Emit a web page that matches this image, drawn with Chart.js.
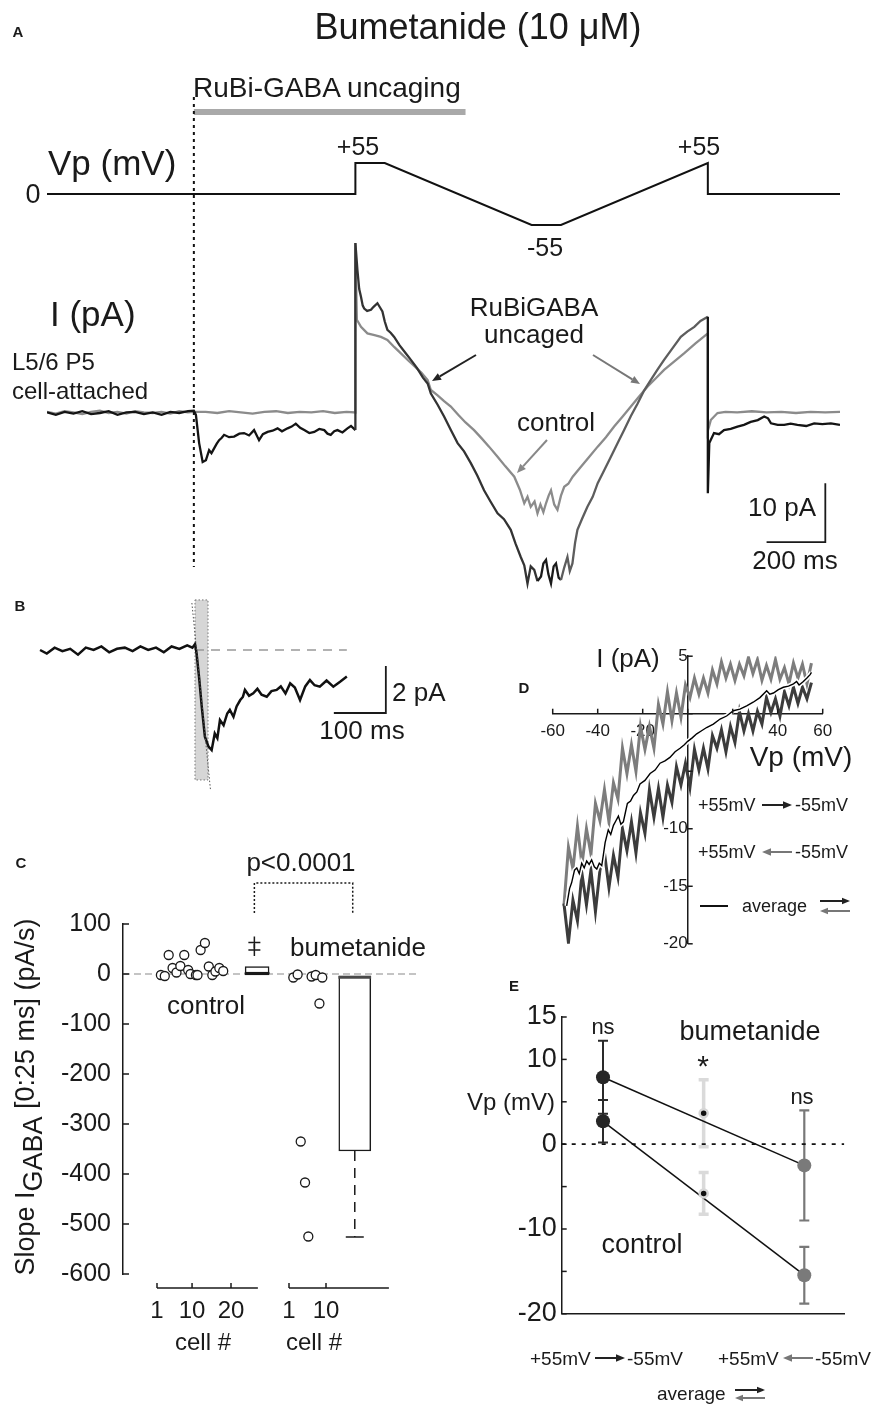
<!DOCTYPE html>
<html>
<head>
<meta charset="utf-8">
<script src="https://cdn.jsdelivr.net/npm/chart.js@4.4.0/dist/chart.umd.min.js"></script>
<style>
  html, body { margin: 0; padding: 0; background: #fff; }
  #page { position: relative; width: 875px; height: 1405px; overflow: hidden;
          font-family: 'Liberation Sans', Arial, sans-serif; color: #1a1a1a; }
  #page canvas { position: absolute; }
  .lbl { position: absolute; white-space: nowrap; line-height: 1; }
  .lbl sub { font-size: 1em; vertical-align: -0.3em; line-height: 0; }
  #marks { position: absolute; left: 0; top: 0; }
</style>
</head>
<body>
<div id="page"></div>
<script>
// ---------- A: voltage protocol (ms, mV) and currents (ms, pA)
const vpTime  = [-500, 550, 550, 650, 1150, 1250, 1750, 1750, 2200];
const vpLevel = [0, 0, 55, 55, -55, -55, 55, 0, 0];
const uncagingWindow = [0, 925];

const uncagedT = [
  -500,-470,-440,-410,-380,-350,-320,-290,-260,-230,-200,-170,-140,-110,-80,-50,-20,0,
  7,18,30,41,52,60,69,78,86,95,103,120,137,155,171,188,205,222,235,251,268,285,300,319,333,347,362,376,393,410,427,444,455,466,478,489,506,523,535,550,
  550,557,563,569,575,580,590,603,612,625,635,642,650,659,670,682,700,720,739,760,780,796,807,830,852,875,898,920,943,965,
  988,1010,1034,1056,1079,1095,1113,1125,1136,1147,1159,1170,1182,1190,1199,1207,1216,1225,1233,1242,1250,1261,1272,1280,1289,1298,1306,1323,1340,1358,
  1375,1398,1420,1443,1465,1488,1511,1533,1556,1578,1601,1630,1658,1680,1704,1725,1750,
  1750,1755,1771,1788,1805,1828,1851,1873,1896,1920,1942,1955,1965,1988,2010,2032,2055,2085,2112,2140,2169,2200];
const uncagedI = [
  0.1,-0.3,0.2,-0.1,0.3,-0.2,0.0,0.3,-0.3,0.1,0.2,-0.2,0.1,-0.3,0.2,0.0,0.3,0.4,
  -0.3,-5.1,-8.3,-8.0,-6.3,-6.8,-6.0,-5.2,-4.6,-4.2,-3.7,-4.1,-4.0,-3.5,-3.4,-3.8,-2.9,-4.6,-3.6,-3.2,-3.0,-2.6,-3.1,-2.6,-2.3,-1.8,-2.5,-2.9,-3.4,-3.2,-2.7,-2.9,-3.5,-3.7,-3.1,-2.9,-3.3,-2.6,-2.2,-2.9,
  28.8,24.2,21.0,19.7,18.2,17.7,17.3,17.5,18.0,18.6,17.8,17.2,15.5,14.1,13.6,12.9,11.5,10.2,9.0,7.6,6.0,5.0,3.3,1.4,-0.6,-2.9,-5.1,-6.5,-8.5,-10.6,
  -13.1,-15.0,-17.0,-18.0,-19.8,-22.1,-24.4,-25.8,-28.9,-26.0,-26.6,-28.5,-27.7,-25.5,-24.9,-27.3,-28.9,-26.0,-25.5,-27.9,-28.3,-26.2,-24.4,-26.8,-25.5,-22.0,-19.8,-17.8,-15.9,-14.2,
  -11.9,-9.6,-7.4,-5.1,-2.9,-0.5,1.6,3.8,5.6,7.3,9.0,11.0,12.9,13.8,14.6,15.6,16.3,
  -13.6,-5.1,-3.4,-3.6,-2.9,-2.7,-2.3,-2.0,-1.5,-1.2,-0.6,-0.9,-1.75,-2.0,-2.0,-1.8,-2.0,-2.2,-1.75,-1.9,-1.75,-2.0];

const controlT = [
  -500,-470,-440,-410,-380,-350,-320,-290,-260,-230,-200,-170,-140,-110,-80,-50,-20,0,
  40,80,120,160,200,240,280,320,360,400,440,480,520,550,
  550,555,569,591,615,637,659,682,705,730,752,775,796,807,830,852,875,900,925,954,
  980,1005,1034,1060,1091,1110,1125,1136,1147,1160,1170,1180,1190,1199,1208,1216,1227,1238,1250,1261,
  1275,1290,1318,1345,1375,1403,1431,1460,1488,1516,1545,1573,1601,1635,1669,1708,1750,
  1750,1760,1783,1810,1850,1900,1950,2000,2050,2100,2150,2200];
const controlI = [
  0.2,-0.1,0.3,0.1,-0.2,0.2,0.4,0.0,0.2,-0.1,0.3,0.1,0.0,0.2,-0.1,0.3,0.1,0.2,
  0.2,0.0,0.3,0.1,-0.1,0.2,0.3,0.0,0.2,0.1,0.3,0.0,0.2,0.1,
  28.8,15.8,14.6,13.5,13.2,12.9,12.4,11.2,10.1,8.9,7.9,6.8,5.6,3.9,3.0,2.0,1.1,-0.3,-1.6,-2.9,
  -4.3,-5.7,-7.4,-9.0,-10.8,-13.0,-15.3,-14.2,-15.9,-15.0,-17.0,-15.5,-16.8,-15.3,-14.0,-13.1,-15.5,-16.4,-14.0,-12.5,
  -12.0,-10.8,-9.1,-7.5,-5.7,-4.1,-2.3,-0.6,1.1,2.8,4.5,5.9,7.3,8.7,10.1,11.8,13.5,
  -3.0,-1.2,0.0,0.2,0.1,0.3,0.1,0.2,0.0,0.2,0.1,0.2];

// ---------- B: onset of the uncaging response (ms, pA)
const onsetT = [-298,-285,-270,-255,-240,-225,-210,-195,-180,-165,-150,-135,-120,-105,-90,-75,-60,-45,-30,-15,
  -5,0,3,8,13,19,26,32,38,43,48,55,62,67,74,80,87,92,96,104,112,120,128,138,147,157,165,174,183,192,
  202,212,221,230,240,253,266,279,292];
const onsetI = [0.0,-0.15,0.1,-0.05,0.05,-0.2,0.1,0.0,0.15,-0.1,0.05,0.1,-0.05,0.15,0.0,0.1,-0.1,0.15,0.05,0.2,
  0.1,0.25,-0.14,-1.2,-2.41,-3.69,-4.11,-4.26,-3.55,-3.75,-2.98,-3.2,-2.7,-2.55,-2.84,-2.4,-2.13,-2.0,-1.7,-1.95,
  -1.84,-1.65,-1.9,-1.99,-1.75,-1.7,-1.55,-1.85,-1.42,-1.6,-2.13,-1.55,-1.28,-1.5,-1.56,-1.3,-1.56,-1.35,-1.13];
const slopeWindow = [0, 25];
const fitT = [-6, 30];
const fitI = [2.0, -6.0];

// ---------- C: initial slope per cell (pA/s)
const ctrlCell  = [2, 3, 4, 5, 6, 7, 8, 9, 9.6, 11, 11.4, 12.2, 13.3, 14.3, 15.2, 16, 17, 18];
const ctrlSlope = [-2, -4, 38, 12, 3, 16, 38, 8, 0, -2, -2, 48, 62, 15, -2, 5, 12, 6];
const bumCell   = [2.05, 3.1, 3.85, 4.9, 5.7, 6.5, 7.5, 8.4, 9.1];
const bumSlope  = [-7, -1, -335, -417, -525, -5, -2, -59, -7];
const ctrlOutliers = [48, 63];
const boxLow = [-2, -354];
const boxHigh = [15, -4];
const boxMedian = [2, -6.5];
const whiskerLow = -526;
const slopeTicks = [100, 0, -100, -200, -300, -400, -500, -600];

// ---------- D: I-V curves (mV, pA)
const rampVp = [-55,-53,-51,-49,-47,-45,-43,-41,-39,-37,-35,-33,-31,-29,-27,-25,-23,-21,-19,-17,-15,-13,-11,-9,-7,-5,-3,-1,
  1,3,5,7,9,11,13,15,17,19,21,23,25,27,29,31,33,35,37,39,41,43,45,47,49,51,53,55];
const rampDownI = [-16.5,-19.9,-16.2,-18.0,-13.9,-16.6,-13.6,-17.2,-13.6,-12.1,-15.1,-12.3,-14.2,-10.0,-11.9,-9.4,-12.1,-8.6,-10.4,-6.6,-9.0,-6.5,-9.0,-6.2,-7.7,-4.6,-6.2,-4.3,
  -6.4,-3.1,-4.9,-3.0,-4.8,-1.9,-3.0,-1.4,-3.3,-1.1,-2.5,0.2,-1.5,0.0,-1.5,0.2,-0.9,1.4,0.1,1.3,-0.2,1.9,0.7,2.3,0.9,2.3,1.3,2.7];
const rampUpI = [-16.7,-11.6,-13.5,-9.8,-13.1,-10.0,-12.2,-7.8,-9.3,-6.6,-9.4,-6.0,-7.4,-3.0,-5.2,-2.7,-5.0,-1.1,-3.1,-1.1,-3.0,0.8,-0.9,1.9,-0.6,1.8,-0.3,2.5,
  1.4,3.1,1.7,3.1,1.8,3.8,2.6,4.5,3.1,4.3,2.9,4.3,3.3,4.9,3.5,4.7,2.9,4.2,3.0,4.7,3.0,4.0,2.6,4.4,3.1,4.3,2.6,4.4];
const avgVp = [-53.8,-52.5,-51.6,-50.3,-49.3,-48.2,-47.1,-46,-44.9,-43.8,-42.7,-41.5,-40.4,-39.3,-38.2,-37.5,-36.7,-35.3,-34.2,-33,
  -31.9,-30.8,-29.7,-28.6,-27.6,-26.8,-25.4,-24.1,-22.6,-21.2,-19,-16.7,-14.5,-12.3,-10.1,-7.9,-5.6,-3.4,-1.5,0,
  2,4,6,8.4,11.4,14.4,17.3,20.3,23.2,26.2,29.1,32.1,35.1,36.5,38.1,40.3,42.5,44.8,47,48.4,49.5,51.4,53,54.4,55];
const avgI = [-16.7,-15.2,-14.7,-13.6,-13.4,-13.9,-13.0,-13.4,-12.8,-13.1,-12.7,-13.3,-13.5,-13.0,-13.2,-12.3,-11.2,-10.1,-10.5,-9.7,
  -9.3,-8.9,-9.6,-9.4,-8.5,-7.8,-7.6,-7.1,-6.8,-6.1,-5.8,-5.2,-4.9,-4.3,-4.1,-3.8,-3.3,-3.0,-2.7,-2.4,
  -2.1,-1.75,-1.5,-1.2,-0.9,-0.46,-0.2,0.26,0.4,0.69,1.0,1.4,2.0,1.7,1.8,2.1,2.3,2.4,2.6,2.8,2.5,2.8,3.1,3.4,3.6];

// ---------- E: reversal potential (mV), mean and error
const eCategory = [1, 2, 3];   // ramp down, average, ramp up
const bumMean = [7.9, 3.65, -2.5];
const bumErr  = [4.3, 3.95, 6.5];
const ctrlMean = [2.7, -5.8, -15.45];
const ctrlErr  = [2.5, 2.47, 3.35];
const eTickLabels = [15, 10, 0, -10, -20];

// ---------- helpers
const page = document.getElementById('page');
const pts = (xs, ys) => xs.map((x, i) => ({ x, y: ys[i] }));
// value range of an axis that puts v1 at pixel p1 and v2 at p2, evaluated at pixels pa and pb
function span(v1, p1, v2, p2, pa, pb) {
  const k = (v2 - v1) / (p2 - p1);
  return [v1 + (pa - p1) * k, v1 + (pb - p1) * k];
}
function makeCanvas(left, top, w, h) {
  const c = document.createElement('canvas');
  c.width = w; c.height = h;
  c.style.left = left + 'px'; c.style.top = top + 'px';
  c.style.width = w + 'px'; c.style.height = h + 'px';
  page.appendChild(c);
  return c;
}
function label(html, x, y, size, opts = {}) {
  const el = document.createElement('div');
  el.className = 'lbl';
  el.innerHTML = html;
  el.style.left = x + 'px';
  el.style.top = y + 'px';
  el.style.fontSize = size + 'px';
  const tx = opts.anchor === 'left' ? '0' : opts.anchor === 'right' ? '-100%' : '-50%';
  el.style.transform = `translate(${tx}, -50%)` + (opts.rotate ? ` rotate(${opts.rotate}deg)` : '');
  if (opts.bold) el.style.fontWeight = 'bold';
  if (opts.color) el.style.color = opts.color;
  page.appendChild(el);
}

Chart.defaults.font.family = "'Liberation Sans', Arial, sans-serif";
Chart.defaults.color = '#1a1a1a';
Chart.defaults.animation = false;
Chart.defaults.events = [];
Chart.defaults.plugins.legend.display = false;
Chart.defaults.plugins.tooltip.enabled = false;
Chart.defaults.elements.point.radius = 0;
Chart.defaults.elements.line.tension = 0;
const INK = '#1a1a1a';

// ================= Panel A
const aArea = { left: 47, right: 840, top: 90, bottom: 595 };
const [aVmax, aVmin] = span(0, 194, 55, 163, aArea.top, aArea.bottom);
const [aImax, aImin] = span(0, 413, 10, 354, aArea.top, aArea.bottom);
const scaleBarA = { t: 2150, i: -21.9, ms: 200, pA: 10 };

function uncagedColor(t0) {
  if (t0 < 550) return '#141414';
  if (t0 < 1160) return '#333333';
  if (t0 < 1250) return '#1b1b1b';
  if (t0 < 1750) return '#5d5d5d';
  return '#141414';
}

const panelAMarks = {
  id: 'panelAMarks',
  beforeDatasetsDraw(chart) {
    const { ctx, scales: { x } } = chart;
    const x0 = x.getPixelForValue(uncagingWindow[0]);
    const x1 = x.getPixelForValue(uncagingWindow[1]);
    ctx.save();
    ctx.fillStyle = '#a9a9a9';
    ctx.fillRect(x0, 109, x1 - x0, 6);
    ctx.restore();
  },
  afterDatasetsDraw(chart) {
    const { ctx, scales: { x, yI } } = chart;
    const x0 = x.getPixelForValue(uncagingWindow[0]);
    ctx.save();
    ctx.strokeStyle = '#111'; ctx.lineWidth = 2; ctx.setLineDash([3, 4]);
    ctx.beginPath(); ctx.moveTo(x0, 97); ctx.lineTo(x0, 567); ctx.stroke();
    ctx.setLineDash([]);
    const xr = x.getPixelForValue(scaleBarA.t), xl = x.getPixelForValue(scaleBarA.t - scaleBarA.ms);
    const yb = yI.getPixelForValue(scaleBarA.i), yt = yI.getPixelForValue(scaleBarA.i + scaleBarA.pA);
    ctx.strokeStyle = INK; ctx.lineWidth = 1.8;
    ctx.beginPath(); ctx.moveTo(xr, yt); ctx.lineTo(xr, yb); ctx.lineTo(xl, yb); ctx.stroke();
    ctx.restore();
  }
};

new Chart(makeCanvas(0, 0, 875, 595), {
  type: 'line',
  data: {
    datasets: [
      { data: pts(uncagedT, uncagedI), yAxisID: 'yI', borderWidth: 2.3, borderColor: '#141414',
        segment: { borderColor: c => uncagedColor(c.p0.parsed.x) } },
      { data: pts(controlT, controlI), yAxisID: 'yI', borderWidth: 2.3, borderColor: '#8b8b8b' },
      { data: pts(vpTime, vpLevel), yAxisID: 'yV', borderWidth: 2, borderColor: '#111' }
    ]
  },
  options: {
    responsive: false, devicePixelRatio: 1,
    layout: { padding: { left: aArea.left, right: 875 - aArea.right, top: aArea.top, bottom: 0 } },
    scales: {
      x: { type: 'linear', display: false, min: vpTime[0], max: vpTime[vpTime.length - 1] },
      yV: { type: 'linear', display: false, min: aVmin, max: aVmax },
      yI: { type: 'linear', display: false, min: aImin, max: aImax }
    }
  },
  plugins: [panelAMarks]
});

// ================= Panel B
const bTop = 595, bHeight = 205;
const bArea = { left: 39, right: 348 };
const [bTmin, bTmax] = span(0, 195, 100, 247, bArea.left, bArea.right);
const [bImax, bImin] = span(0, 650, -2, 697, bTop, bTop + bHeight);
const scaleBarB = { t: 367, i: -2.68, ms: 100, pA: 2 };
const windowSpanI = [2.13, -5.53];

const panelBMarks = {
  id: 'panelBMarks',
  beforeDatasetsDraw(chart) {
    const { ctx, scales: { x, y } } = chart;
    const x0 = x.getPixelForValue(slopeWindow[0]), x1 = x.getPixelForValue(slopeWindow[1]);
    const y0 = y.getPixelForValue(windowSpanI[0]), y1 = y.getPixelForValue(windowSpanI[1]);
    ctx.save();
    ctx.fillStyle = '#d6d6d6';
    ctx.fillRect(x0, y0, x1 - x0, y1 - y0);
    ctx.strokeStyle = '#777'; ctx.lineWidth = 1; ctx.setLineDash([1.5, 2]);
    ctx.strokeRect(x0, y0, x1 - x0, y1 - y0);
    ctx.restore();
  },
  afterDatasetsDraw(chart) {
    const { ctx, scales: { x, y } } = chart;
    const xr = x.getPixelForValue(scaleBarB.t), xl = x.getPixelForValue(scaleBarB.t - scaleBarB.ms);
    const yb = y.getPixelForValue(scaleBarB.i), yt = y.getPixelForValue(scaleBarB.i + scaleBarB.pA);
    ctx.save();
    ctx.strokeStyle = INK; ctx.lineWidth = 1.8;
    ctx.beginPath(); ctx.moveTo(xr, yt); ctx.lineTo(xr, yb); ctx.lineTo(xl, yb); ctx.stroke();
    ctx.restore();
  }
};

new Chart(makeCanvas(0, bTop, 450, bHeight), {
  type: 'line',
  data: {
    datasets: [
      { data: pts(fitT, fitI), borderColor: '#555', borderWidth: 1, borderDash: [1.5, 2], clip: false },
      { data: pts(onsetT, onsetI), borderColor: '#111', borderWidth: 2.5 },
      { data: pts([0, onsetT[onsetT.length - 1]], [0, 0]), borderColor: '#999', borderWidth: 1.5, borderDash: [9, 7] }
    ]
  },
  options: {
    responsive: false, devicePixelRatio: 1,
    layout: { padding: { left: bArea.left, right: 450 - bArea.right, top: 0, bottom: 0 } },
    scales: {
      x: { type: 'linear', display: false, min: bTmin, max: bTmax },
      y: { type: 'linear', display: false, min: bImin, max: bImax }
    }
  },
  plugins: [panelBMarks]
});

// ================= Panel C
const cTop = 880, cHeight = 470;
const cArea = { left: 123, right: 420, top: 924, bottom: 1274 };
const [xcMin, xcMax] = span(1, 157, 20, 231, cArea.left, cArea.right);
const [xbMin, xbMax] = span(1, 289, 10, 326, cArea.left, cArea.right);
const CTRL_BOX_X = 26.7, BUM_BOX_X = 17;
const cellAxes = [{ id: 'xc', ticks: [1, 10, 20], end: 26.9 }, { id: 'xb', ticks: [1, 10], end: 25.3 }];
const bracketLevels = [122, 182];
const capHalfB = 9 * (xbMax - xbMin) / (cArea.right - cArea.left);

const panelCMarks = {
  id: 'panelCMarks',
  afterDraw(chart) {
    const { ctx, scales, chartArea } = chart;
    const y = scales.y;
    ctx.save();
    ctx.strokeStyle = INK; ctx.lineWidth = 1.5;
    y.ticks.forEach(t => {
      const py = y.getPixelForValue(t.value);
      ctx.beginPath(); ctx.moveTo(chartArea.left, py); ctx.lineTo(chartArea.left + 6, py); ctx.stroke();
    });
    const axisY = chartArea.bottom + 14;
    ctx.fillStyle = INK; ctx.font = "24px 'Liberation Sans', Arial, sans-serif";
    ctx.textAlign = 'center'; ctx.textBaseline = 'middle';
    cellAxes.forEach(a => {
      const sc = scales[a.id];
      ctx.beginPath(); ctx.moveTo(sc.getPixelForValue(1), axisY); ctx.lineTo(sc.getPixelForValue(a.end), axisY); ctx.stroke();
      a.ticks.forEach(v => {
        const px = sc.getPixelForValue(v);
        ctx.beginPath(); ctx.moveTo(px, axisY); ctx.lineTo(px, axisY - 5); ctx.stroke();
        ctx.fillText(String(v), px, axisY + 23);
      });
    });
    // significance bracket between the two boxes
    const xl = scales.xc.getPixelForValue(CTRL_BOX_X - 0.7), xr = scales.xb.getPixelForValue(BUM_BOX_X - 0.5);
    const yLo = y.getPixelForValue(bracketLevels[0]), yHi = y.getPixelForValue(bracketLevels[1]);
    ctx.setLineDash([2, 2]); ctx.lineWidth = 1.5;
    ctx.beginPath(); ctx.moveTo(xl, yLo); ctx.lineTo(xl, yHi); ctx.lineTo(xr, yHi); ctx.lineTo(xr, yLo); ctx.stroke();
    ctx.restore();
  }
};

new Chart(makeCanvas(0, cTop, 450, cHeight), {
  type: 'line',
  data: {
    datasets: [
      { data: pts(ctrlCell, ctrlSlope), xAxisID: 'xc', showLine: false, pointRadius: 4.5,
        pointBackgroundColor: '#fff', pointBorderColor: INK, pointBorderWidth: 1.3 },
      { data: pts(bumCell, bumSlope), xAxisID: 'xb', showLine: false, pointRadius: 4.5,
        pointBackgroundColor: '#fff', pointBorderColor: INK, pointBorderWidth: 1.3 },
      { data: ctrlOutliers.map(v => ({ x: CTRL_BOX_X - 0.7, y: v })), xAxisID: 'xc', showLine: false,
        pointStyle: 'cross', pointRadius: 6, pointBorderColor: INK, pointBorderWidth: 1.5 },
      { type: 'bar', data: [{ x: CTRL_BOX_X, y: [boxMedian[0] - 1.5, boxMedian[0] + 1.5] }], xAxisID: 'xc',
        backgroundColor: INK, barThickness: 24, grouped: false },
      { type: 'bar', data: [{ x: BUM_BOX_X, y: [boxMedian[1] - 2.5, boxMedian[1] + 2.5] }], xAxisID: 'xb',
        backgroundColor: '#4a4a4a', barThickness: 32, grouped: false },
      { type: 'bar', data: [{ x: CTRL_BOX_X, y: [boxLow[0], boxHigh[0]] }], xAxisID: 'xc',
        backgroundColor: '#fff', borderColor: INK, borderWidth: 1.5, borderSkipped: false, barThickness: 24, grouped: false },
      { type: 'bar', data: [{ x: BUM_BOX_X, y: [boxLow[1], boxHigh[1]] }], xAxisID: 'xb',
        backgroundColor: '#fff', borderColor: INK, borderWidth: 1.5, borderSkipped: false, barThickness: 32, grouped: false },
      { data: [{ x: BUM_BOX_X, y: boxLow[1] }, { x: BUM_BOX_X, y: whiskerLow }], xAxisID: 'xb',
        borderColor: INK, borderWidth: 1.5, borderDash: [10, 7] },
      { data: [{ x: BUM_BOX_X - capHalfB, y: whiskerLow }, { x: BUM_BOX_X + capHalfB, y: whiskerLow }], xAxisID: 'xb',
        borderColor: INK, borderWidth: 1.5 },
      { data: [{ x: xcMin, y: 0 }, { x: span(1, 157, 20, 231, 418, 418)[0], y: 0 }], xAxisID: 'xc',
        borderColor: '#8a8a8a', borderWidth: 1.2, borderDash: [7, 4] }
    ]
  },
  options: {
    responsive: false, devicePixelRatio: 1,
    layout: { padding: { left: 0, right: 450 - cArea.right, top: cArea.top - cTop, bottom: cTop + cHeight - cArea.bottom } },
    scales: {
      xc: { type: 'linear', display: false, offset: false, min: xcMin, max: xcMax },
      xb: { type: 'linear', display: false, offset: false, min: xbMin, max: xbMax },
      y: {
        type: 'linear', min: slopeTicks[slopeTicks.length - 1], max: slopeTicks[0],
        grid: { display: false, drawTicks: false },
        border: { display: true, color: INK, width: 1.5 },
        ticks: { stepSize: 100, padding: 12, autoSkip: false, font: { size: 25 }, color: INK },
        afterFit: s => { s.width = cArea.left; }
      }
    }
  },
  plugins: [panelCMarks]
});

// ================= Panel D
const dLeft = 530, dTop = 640, dW = 345, dH = 320;
const dArea = { left: 552.7, right: 822.7, top: 655, bottom: 945 };
const panelDMarks = {
  id: 'panelDMarks',
  afterDraw(chart) {
    const { ctx, scales: { x, y } } = chart;
    const x0 = x.getPixelForValue(0), y0 = y.getPixelForValue(0);
    ctx.save();
    ctx.strokeStyle = INK; ctx.lineWidth = 1.5;
    x.ticks.forEach(t => {
      const px = x.getPixelForValue(t.value);
      ctx.beginPath(); ctx.moveTo(px, y0); ctx.lineTo(px, y0 - 5); ctx.stroke();
    });
    y.ticks.forEach(t => {
      const py = y.getPixelForValue(t.value);
      ctx.beginPath(); ctx.moveTo(x0, py); ctx.lineTo(x0 + 5, py); ctx.stroke();
    });
    ctx.restore();
  }
};

new Chart(makeCanvas(dLeft, dTop, dW, dH), {
  type: 'line',
  data: {
    datasets: [
      { data: pts(avgVp, avgI), borderColor: '#000', borderWidth: 1.4 },
      { data: pts(avgVp, avgI), borderColor: '#fff', borderWidth: 4.5 },
      { data: pts(rampVp, rampDownI), borderColor: '#3c3c3c', borderWidth: 3 },
      { data: pts(rampVp, rampUpI), borderColor: '#7d7d7d', borderWidth: 3 }
    ]
  },
  options: {
    responsive: false, devicePixelRatio: 1,
    layout: { padding: { left: dArea.left - dLeft, right: dLeft + dW - dArea.right, top: dArea.top - dTop, bottom: dTop + dH - dArea.bottom } },
    scales: {
      x: {
        type: 'linear', min: -60, max: 60, position: { y: 0 },
        grid: { display: false, drawTicks: false }, border: { color: INK, width: 1.5 },
        ticks: { stepSize: 20, padding: 7, autoSkip: false, maxRotation: 0, font: { size: 17 }, color: INK,
                 callback: v => (v === 0 || v === 20) ? '' : String(v) }
      },
      y: {
        type: 'linear', min: -20, max: 5, position: { x: 0 },
        grid: { display: false, drawTicks: false }, border: { color: INK, width: 1.5 },
        ticks: { stepSize: 5, padding: 6, autoSkip: false, font: { size: 17 }, color: INK,
                 callback: v => (v === 0 || v === -5) ? '' : String(v) }
      }
    }
  },
  plugins: [panelDMarks]
});

// ================= Panel E
const eLeft = 480, eTop = 990, eW = 395, eH = 345;
const eArea = { left: 561.7, right: 844.3, top: 1017, bottom: 1317 };
const [exMin, exMax] = span(1, 603, 3, 804.3, eArea.left, eArea.right);
const eBarColors = ['#2a2a2a', '#dadada', '#787878'];
const eBarWidths = [2, 3.5, 2.2];

const panelEMarks = {
  id: 'panelEMarks',
  beforeDatasetsDraw(chart) {
    const { ctx, scales: { x, y }, chartArea } = chart;
    ctx.save();
    [[bumMean, bumErr], [ctrlMean, ctrlErr]].forEach(([m, e]) => {
      eCategory.forEach((c, i) => {
        const px = x.getPixelForValue(c);
        const yt = y.getPixelForValue(m[i] + e[i]), yb = y.getPixelForValue(m[i] - e[i]);
        ctx.strokeStyle = eBarColors[i]; ctx.lineWidth = eBarWidths[i];
        ctx.beginPath();
        ctx.moveTo(px, yt); ctx.lineTo(px, yb);
        ctx.moveTo(px - 5, yt); ctx.lineTo(px + 5, yt);
        ctx.moveTo(px - 5, yb); ctx.lineTo(px + 5, yb);
        ctx.stroke();
      });
    });
    ctx.strokeStyle = INK; ctx.lineWidth = 1.5;
    y.ticks.forEach(t => {
      const py = y.getPixelForValue(t.value);
      ctx.beginPath(); ctx.moveTo(chartArea.left, py); ctx.lineTo(chartArea.left + 5, py); ctx.stroke();
    });
    ctx.restore();
  }
};

new Chart(makeCanvas(eLeft, eTop, eW, eH), {
  type: 'line',
  data: {
    datasets: [
      { data: [{ x: eCategory[1], y: bumMean[1] }, { x: eCategory[1], y: ctrlMean[1] }], showLine: false,
        pointRadius: 4, pointBackgroundColor: '#111', pointBorderColor: '#d6d6d6', pointBorderWidth: 2.5 },
      { data: [{ x: eCategory[0], y: bumMean[0] }, { x: eCategory[2], y: bumMean[2] }], borderColor: '#111', borderWidth: 1.5,
        pointRadius: 7, pointBackgroundColor: ['#262626', '#7a7a7a'], pointBorderWidth: 0 },
      { data: [{ x: eCategory[0], y: ctrlMean[0] }, { x: eCategory[2], y: ctrlMean[2] }], borderColor: '#111', borderWidth: 1.5,
        pointRadius: 7, pointBackgroundColor: ['#262626', '#7a7a7a'], pointBorderWidth: 0 },
      { data: [{ x: exMin, y: 0 }, { x: exMax, y: 0 }], borderColor: '#111', borderWidth: 1.8, borderDash: [4, 6] }
    ]
  },
  options: {
    responsive: false, devicePixelRatio: 1,
    layout: { padding: { left: 0, right: eLeft + eW - eArea.right, top: eArea.top - eTop, bottom: eTop + eH - eArea.bottom } },
    scales: {
      x: { type: 'linear', min: exMin, max: exMax, ticks: { display: false },
           grid: { display: false, drawTicks: false }, border: { color: INK, width: 1.5 },
           afterFit: s => { s.height = 0; } },
      y: {
        type: 'linear', min: -20, max: 15,
        grid: { display: false, drawTicks: false }, border: { color: INK, width: 1.5 },
        ticks: { stepSize: 5, padding: 5, autoSkip: false, font: { size: 27 }, color: INK,
                 callback: v => eTickLabels.includes(v) ? String(v) : '' },
        afterFit: s => { s.width = eArea.left - eLeft; }
      }
    }
  },
  plugins: [panelEMarks]
});

// ================= annotation arrows
function arrow(x1, y1, x2, y2, color, w = 2, head = 9) {
  const a = Math.atan2(y2 - y1, x2 - x1);
  const bx = x2 - head * Math.cos(a), by = y2 - head * Math.sin(a);
  const hw = head * 0.42, px = -Math.sin(a) * hw, py = Math.cos(a) * hw;
  return `<line x1="${x1}" y1="${y1}" x2="${bx}" y2="${by}" stroke="${color}" stroke-width="${w}"/>` +
         `<polygon points="${x2},${y2} ${bx + px},${by + py} ${bx - px},${by - py}" fill="${color}"/>`;
}
const svg = `<svg id="marks" width="875" height="1405" xmlns="http://www.w3.org/2000/svg">
  ${arrow(476, 355, 432, 381, '#222')}
  ${arrow(593, 355, 640, 384, '#777')}
  ${arrow(547, 440, 517, 473, '#888')}
  ${arrow(762, 805, 792, 805, '#222', 2, 9)}
  ${arrow(792, 852, 762, 852, '#777', 2, 9)}
  <line x1="700" y1="906" x2="728" y2="906" stroke="#111" stroke-width="2"/>
  ${arrow(820, 901, 850, 901, '#222', 2, 8)}
  ${arrow(850, 911, 820, 911, '#777', 2, 8)}
  ${arrow(595, 1358, 625, 1358, '#222', 2, 9)}
  ${arrow(813, 1358, 783, 1358, '#777', 2, 9)}
  ${arrow(735, 1390, 765, 1390, '#222', 2, 8)}
  ${arrow(765, 1398, 735, 1398, '#777', 2, 8)}
</svg>`;
page.insertAdjacentHTML('beforeend', svg);

// ================= text
label('A', 18, 31, 15, { bold: true });
label('Bumetanide (10 \u03bcM)', 478, 27, 36);
label('RuBi-GABA uncaging', 193, 88, 28, { anchor: 'left' });
label('Vp (mV)', 48, 162, 35, { anchor: 'left' });
label('0', 33, 194, 27);
label('+55', 358, 146, 25);
label('+55', 699, 146, 25);
label('-55', 545, 247, 25);
label('I (pA)', 50, 313, 35, { anchor: 'left' });
label('L5/6 P5', 12, 362, 24, { anchor: 'left' });
label('cell-attached', 12, 391, 24, { anchor: 'left' });
label('RuBiGABA', 534, 307, 26);
label('uncaged', 534, 334, 26);
label('control', 556, 422, 26);
label('10 pA', 782, 507, 26);
label('200 ms', 795, 560, 26);

label('B', 20, 605, 15, { bold: true });
label('2 pA', 392, 692, 26, { anchor: 'left' });
label('100 ms', 362, 730, 26);

label('C', 21, 862, 15, { bold: true });
label('p&lt;0.0001', 301, 862, 26);
label('bumetanide', 358, 947, 26);
label('control', 206, 1005, 26);
label('Slope I<sub>GABA</sub> [0:25 ms] (pA/s)', 25, 1097, 27, { rotate: -90 });
label('cell #', 203, 1342, 24);
label('cell #', 314, 1342, 24);

label('D', 524, 687, 15, { bold: true });
label('I (pA)', 628, 658, 26);
label('Vp (mV)', 801, 757, 28);
label('+55mV', 698, 805, 18, { anchor: 'left' });
label('-55mV', 795, 805, 18, { anchor: 'left' });
label('+55mV', 698, 852, 18, { anchor: 'left' });
label('-55mV', 795, 852, 18, { anchor: 'left' });
label('average', 742, 906, 18, { anchor: 'left' });

label('E', 514, 985, 15, { bold: true });
label('Vp (mV)', 511, 1102, 24);
label('ns', 603, 1027, 22);
label('*', 703, 1066, 30);
label('ns', 802, 1097, 22);
label('bumetanide', 750, 1031, 27);
label('control', 642, 1244, 27);
label('+55mV', 530, 1358, 19, { anchor: 'left' });
label('-55mV', 627, 1358, 19, { anchor: 'left' });
label('+55mV', 718, 1358, 19, { anchor: 'left' });
label('-55mV', 815, 1358, 19, { anchor: 'left' });
label('average', 657, 1393, 19, { anchor: 'left' });
</script>
</body>
</html>
